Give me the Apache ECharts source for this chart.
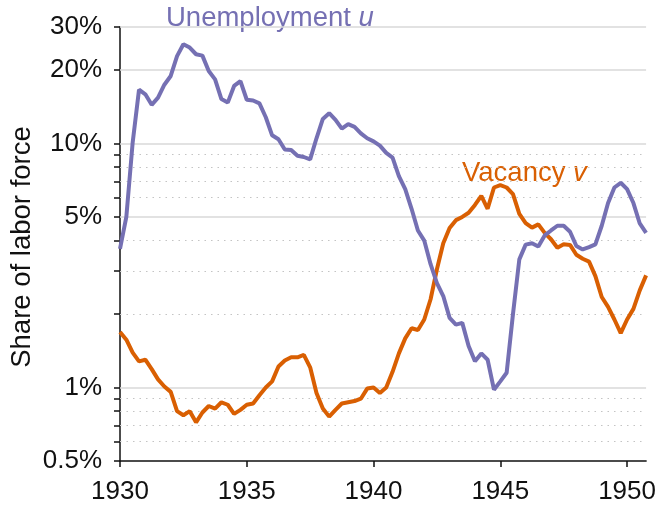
<!DOCTYPE html>
<html>
<head>
<meta charset="utf-8">
<title>Unemployment and vacancy</title>
<script src="https://cdn.jsdelivr.net/npm/echarts@6/dist/echarts.min.js"></script>
<style>
  html, body { margin: 0; padding: 0; background: #fff; }
  #chart { width: 659px; height: 505px; }
</style>
</head>
<body>
<div id="chart"></div>
<script>
// quarterly observations, 1930 Q1 .. 1950 Q4 (share of labor force, %)
const startYear = 1930
const unemployment = [
  3.7, 5.0, 10.1, 16.6,
  15.9, 14.4, 15.4, 17.4,
  18.9, 22.8, 25.5, 24.7,
  23.2, 22.9, 19.8, 18.3,
  15.2, 14.7, 17.2, 18.0,
  15.1, 15.0, 14.6, 12.8,
  10.8, 10.4, 9.45, 9.4,
  8.9, 8.8, 8.6, 10.5,
  12.6, 13.3, 12.5, 11.5,
  12.0, 11.7, 11.0, 10.5,
  10.2, 9.8, 9.15, 8.75,
  7.35, 6.5, 5.4, 4.4,
  4.0, 3.2, 2.68, 2.37,
  1.93, 1.81, 1.84, 1.48,
  1.28, 1.38, 1.30, 0.98,
  1.06, 1.15, 2.0, 3.35,
  3.85, 3.9, 3.78, 4.2,
  4.4, 4.6, 4.6, 4.35,
  3.8, 3.68, 3.76, 3.86,
  4.6, 5.7, 6.6, 6.9,
  6.5, 5.7, 4.7, 4.3
]
const vacancy = [
  1.69, 1.57, 1.39, 1.28,
  1.30, 1.19, 1.08, 1.01,
  0.96, 0.80, 0.77, 0.80,
  0.72, 0.79, 0.84, 0.82,
  0.87, 0.85, 0.78, 0.81,
  0.85, 0.86, 0.93, 1.00,
  1.06, 1.22, 1.29, 1.33,
  1.33, 1.36, 1.21, 0.95,
  0.82, 0.76, 0.81, 0.86,
  0.87, 0.88, 0.90, 0.99,
  1.0, 0.95, 1.0, 1.16,
  1.38, 1.59, 1.75, 1.72,
  1.90, 2.30, 3.05, 3.9,
  4.5, 4.85, 5.0, 5.2,
  5.6, 6.1, 5.4, 6.6,
  6.75, 6.6, 6.2, 5.15,
  4.72, 4.52, 4.66, 4.3,
  4.05, 3.74, 3.86, 3.84,
  3.5, 3.37, 3.28, 2.86,
  2.35, 2.14, 1.9, 1.67,
  1.90, 2.1, 2.5, 2.88
]
const xTicks = [1930, 1935, 1940, 1945, 1950]
const yLabels = [0.5, 1, 5, 10, 20, 30]
const yMinor = [0.6, 0.7, 0.8, 0.9, 2, 3, 4, 6, 7, 8, 9]

const PURPLE = '#7570b3'
const ORANGE = '#d95f02'
const FONT = '"Liberation Sans", Arial, Helvetica, sans-serif'

function toPairs (values) {
  return values.map((v, i) => [startYear + i * 0.25, v])
}

// gridlines: solid at labelled values, dotted at the minor ones
const gridLines = yLabels.filter(v => v > 0.5).map(v => ({
  yAxis: v,
  lineStyle: { color: '#d9d9d9', width: 1.5, type: 'solid' }
})).concat(yMinor.map(v => ({
  yAxis: v,
  lineStyle: { color: '#c4c4c4', width: 1.2, type: [1.5, 5] }
})))

const chart = echarts.init(document.getElementById('chart'))
chart.setOption({
  animation: false,
  grid: {
    left: 120,
    right: 12,
    top: 27,
    bottom: 44,
    containLabel: false
  },
  xAxis: {
    type: 'value',
    min: 1930,
    max: 1950.75,
    interval: 5,
    axisLine: { lineStyle: { color: '#111', width: 1.5 } },
    axisTick: {
      customValues: xTicks,
      length: 6,
      lineStyle: { color: '#111', width: 1.5 }
    },
    axisLabel: {
      customValues: xTicks,
      formatter: v => String(v),
      color: '#111',
      fontSize: 26,
      fontFamily: FONT,
      margin: 18
    },
    splitLine: { show: false }
  },
  yAxis: {
    type: 'log',
    logBase: 10,
    min: 0.5,
    max: 30,
    axisLine: { show: true, lineStyle: { color: '#111', width: 1.5 } },
    axisTick: {
      show: true,
      customValues: yLabels.concat(yMinor),
      length: 6,
      lineStyle: { color: '#111', width: 1.5 }
    },
    axisLabel: {
      customValues: yLabels,
      formatter: v => v + '%',
      color: '#111',
      fontSize: 26,
      fontFamily: FONT,
      margin: 18
    },
    splitLine: { show: false }
  },
  graphic: [
    {
      type: 'text',
      x: 166,
      y: 18,
      style: {
        text: '{a|Unemployment }{b|u}',
        textVerticalAlign: 'middle',
        rich: {
          a: { fontSize: 27.5, fontFamily: FONT, fill: PURPLE },
          b: { fontSize: 27.5, fontFamily: FONT, fill: PURPLE, fontStyle: 'italic' }
        }
      }
    },
    {
      type: 'text',
      x: 462,
      y: 173,
      style: {
        text: '{a|Vacancy }{b|v}',
        textVerticalAlign: 'middle',
        rich: {
          a: { fontSize: 27.5, fontFamily: FONT, fill: ORANGE },
          b: { fontSize: 27.5, fontFamily: FONT, fill: ORANGE, fontStyle: 'italic' }
        }
      }
    },
    {
      type: 'text',
      x: 22,
      y: 247,
      rotation: Math.PI / 2,
      style: {
        text: 'Share of labor force',
        fontSize: 27.5,
        fontFamily: FONT,
        fill: '#111',
        textAlign: 'center',
        textVerticalAlign: 'middle'
      }
    }
  ],
  series: [
    {
      name: 'Vacancy',
      type: 'line',
      data: toPairs(vacancy),
      showSymbol: false,
      lineStyle: { color: ORANGE, width: 4 },
      itemStyle: { color: ORANGE },
      z: 3,
      markLine: {
        silent: true,
        symbol: 'none',
        z: 1,
        label: { show: false },
        data: gridLines
      }
    },
    {
      name: 'Unemployment',
      type: 'line',
      data: toPairs(unemployment),
      showSymbol: false,
      lineStyle: { color: PURPLE, width: 4 },
      itemStyle: { color: PURPLE },
      z: 4
    }
  ]
})
</script>
</body>
</html>
